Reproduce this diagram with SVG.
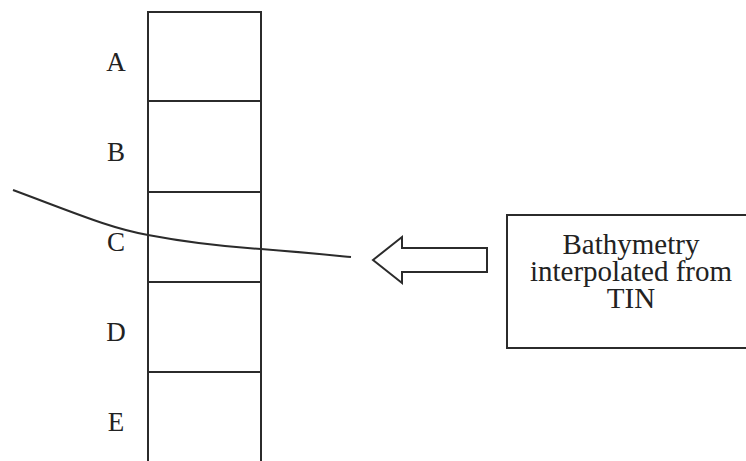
<svg xmlns="http://www.w3.org/2000/svg" width="746" height="461" viewBox="0 0 746 461">
<style>
.ln{fill:none;stroke:#2b2b2b;stroke-width:2}
.lbl{font-family:"Liberation Serif",serif;font-size:27px;fill:#222;text-anchor:middle}
.box{font-family:"Liberation Serif",serif;font-size:29px;fill:#222;text-anchor:middle}
</style>
<rect width="746" height="461" fill="#fff"/>
<g id="column">
<rect class="ln" x="148" y="12" width="113" height="450"/>
<line class="ln" x1="148" y1="101" x2="261" y2="101"/>
<line class="ln" x1="148" y1="192" x2="261" y2="192"/>
<line class="ln" x1="148" y1="282" x2="261" y2="282"/>
<line class="ln" x1="148" y1="372" x2="261" y2="372"/>
</g>
<g id="labels">
<text class="lbl" x="116" y="71">A</text>
<text class="lbl" x="116" y="161">B</text>
<text class="lbl" x="116" y="251">C</text>
<text class="lbl" x="116" y="341">D</text>
<text class="lbl" x="116" y="431">E</text>
</g>
<g id="connectors">
<path class="ln" d="M13,190 C80,215 110,228 148,235 C190,243 230,247 261,249 C300,252 330,255 351,257"/>
<path class="ln" d="M373,260 L402,237 L402,248 L487,248 L487,272 L402,272 L402,283 Z"/>
</g>
<g id="source">
<rect class="ln" x="507" y="215" width="250" height="133"/>
<text class="box" x="631" y="254">Bathymetry</text>
<text class="box" x="631" y="281">interpolated from</text>
<text class="box" x="631" y="308">TIN</text>
</g>
</svg>
